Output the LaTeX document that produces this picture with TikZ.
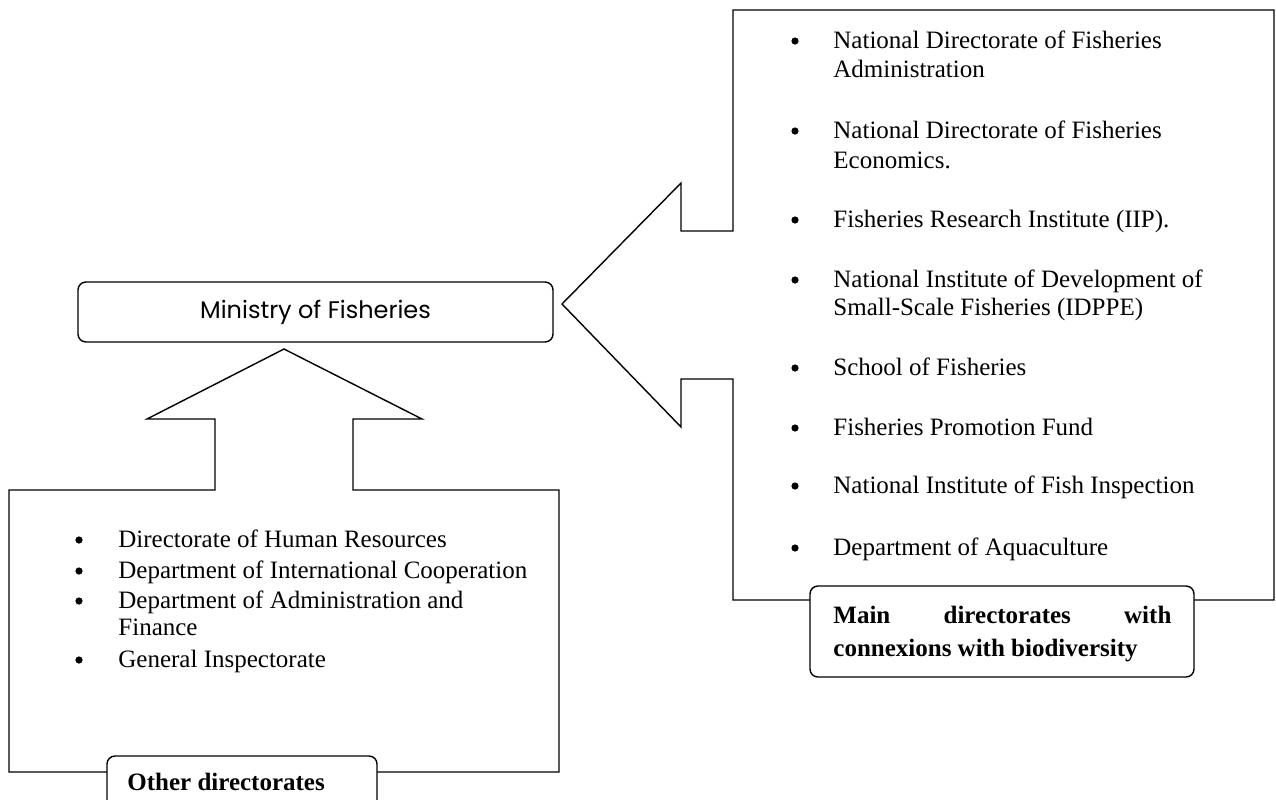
\documentclass[tikz,border=0pt]{standalone}
\usepackage{fontspec}
\setmainfont{Liberation Serif}
\newfontfamily\gothicfont{Poppins}
\usetikzlibrary{positioning}
\tikzset{>=stealth}
\colorlet{penColor}{black}
\colorlet{background}{white}
\tikzset{
  outline/.style={draw=penColor, line width=0.7pt, line join=miter},
  tabbox/.style={draw=penColor, fill=background, line width=0.7pt, rounded corners=4pt, inner sep=0pt},
  ministry/.style={draw=penColor, line width=0.7pt, rounded corners=4pt, inner sep=0pt, font=\gothicfont\fontsize{12}{14}\selectfont},
  item/.style={anchor=base west, inner sep=0pt, font=\fontsize{12.5}{14.6}\selectfont},
  boldtxt/.style={item, font=\fontsize{12.5}{14.6}\selectfont\bfseries},
  dot/.style={circle, fill=penColor, inner sep=0pt, minimum size=3.6pt},
}

\begin{document}
\begin{tikzpicture}[x=0.5pt, y=-0.5pt]
    \path[use as bounding box, clip] (0,0) rectangle (1276,799);
    % ministry
    \node[ministry, minimum width=237.5pt, minimum height=30pt] (min) at (315.5,312) {Ministry of Fisheries};
    % arrow box, bottom left
    \draw[outline] (9,490) -- (215,490) -- (215,419) -- (147,419) -- (284,349)
        -- (422,419) -- (353,419) -- (353,490) -- (559,490) -- (559,772) -- (9,772) -- cycle;
    % arrow box, right
    \draw[outline] (733,10) -- (1274,10) -- (1274,600) -- (733,600) -- (733,379) -- (681,379)
        -- (681,427) -- (562,304) -- (681,183) -- (681,231) -- (733,231) -- cycle;
    % tabs
    \node[tabbox, minimum width=135pt, minimum height=37pt] (othertab) at (242,793) {};
    \node[tabbox, minimum width=192pt, minimum height=45.5pt] (maintab) at (1002,631.5) {};
    \node[boldtxt] (othertxt) at (127,790) {Other directorates};
    \node[boldtxt] (maintxt1) at (833,623) {\makebox[169pt][s]{Main directorates with}};
    \node[boldtxt] (maintxt2) at (833,656) {connexions with biodiversity};
    % other directorates
    \foreach \y/\txt [count=\i] in {547/Directorate of Human Resources,
        578/Department of International Cooperation, 608/Department of Administration and,
        635/Finance, 667/General Inspectorate}
        \node[item] (oth\i) at (118,\y) {\txt};
    \foreach \y [count=\i] in {547,578,608,667}
        \node[dot] (othdot\i) at (79,\y-7) {};
    % main directorates
    \foreach \y/\txt [count=\i] in {48/National Directorate of Fisheries, 77/Administration,
        138/National Directorate of Fisheries, 168/Economics.,
        227/Fisheries Research Institute (IIP).,
        287/National Institute of Development of, 315/Small-Scale Fisheries (IDPPE),
        375/School of Fisheries, 435/Fisheries Promotion Fund,
        493/National Institute of Fish Inspection, 555/Department of Aquaculture}
        \node[item] (mn\i) at (833,\y) {\txt};
    \foreach \y [count=\i] in {48,138,227,287,375,435,493,555}
        \node[dot] (mndot\i) at (795,\y-7) {};
\end{tikzpicture}
\end{document}
